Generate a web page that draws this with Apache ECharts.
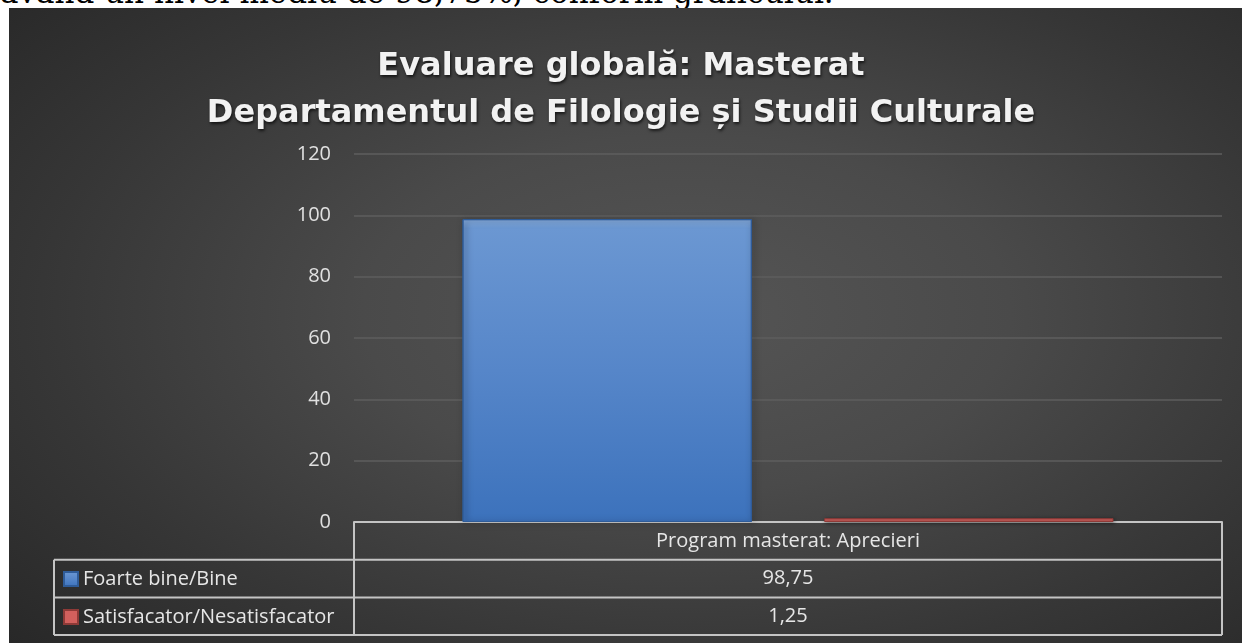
<!DOCTYPE html>
<html><head><meta charset="utf-8">
<script src="https://cdn.jsdelivr.net/npm/echarts@6/dist/echarts.min.js"></script>
<style>
html,body{margin:0;padding:0;background:#fff;width:1242px;height:643px;overflow:hidden;position:relative}
#txt{position:absolute;left:0;top:-26px;font-family:"DejaVu Serif",serif;font-size:31px;color:#000;white-space:nowrap;line-height:36px}
#bg{position:absolute;left:9px;top:8px;width:1233px;height:635px;
 background:radial-gradient(ellipse 75% 80% at 55% 48%, #555555 0%, #4a4a4a 35%, #363636 70%, #272727 100%);}
#chart{position:absolute;left:0;top:0;width:1242px;height:643px}
</style></head>
<body>
<div id="txt">având un nivel mediu de 98,75%, conform graficului.</div>
<div id="bg"></div>
<div id="chart"></div>
<script>
const titleLines = ["Evaluare globală: Masterat", "Departamentul de Filologie și Studii Culturale"];
const categories = ["Program masterat: Aprecieri"];
const seriesNames = ["Foarte bine/Bine", "Satisfacator/Nesatisfacator"];
const valuesGood = [98.75];
const valuesWeak = [1.25];
const yTicks = { min: 0, max: 120, interval: 20 };

const chart = echarts.init(document.getElementById('chart'), null, {renderer: 'canvas'});
const fmt = v => String(v).replace('.', ',');
const lineCol = '#c4c4c4';
const txtCol = '#e6e6e6';

const option = {
  backgroundColor: 'transparent',
  animation: false,
  title: {
    text: titleLines.join('\n'),
    left: 'center', top: 38,
    textStyle: {
      fontFamily: 'DejaVu Sans', fontWeight: 'bold', fontSize: 32, lineHeight: 47,
      color: '#f2f2f2', textShadowColor: 'rgba(0,0,0,0.65)', textShadowBlur: 3,
      textShadowOffsetX: 1, textShadowOffsetY: 2
    }
  },
  legend: {
    orient: 'vertical', left: 63, top: 569, padding: 0,
    itemWidth: 14, itemHeight: 14, itemGap: 18, icon: 'rect',
    textStyle: { color: txtCol, fontSize: 20, fontFamily: 'Open Sans', padding: [0,0,0,0] },
    data: seriesNames
  },
  grid: { left: 354, right: 20, top: 154, bottom: 121, containLabel: false },
  xAxis: {
    type: 'category', data: categories,
    axisLine: { show: true, lineStyle: { color: lineCol, width: 2 } },
    axisTick: { show: false },
    axisLabel: { color: txtCol, fontSize: 20, fontFamily: 'Open Sans', margin: 8 }
  },
  yAxis: {
    type: 'value', min: yTicks.min, max: yTicks.max, interval: yTicks.interval,
    axisLine: { show: false }, axisTick: { show: false },
    axisLabel: { color: '#e0e0e0', fontSize: 20, fontFamily: 'Open Sans', margin: 23 },
    splitLine: { lineStyle: { color: '#5e5e5e', width: 1.5 } }
  },
  series: [
    {
      name: seriesNames[0], type: 'bar', data: valuesGood,
      barGap: '25%', barCategoryGap: '25%',
      itemStyle: {
        color: new echarts.graphic.LinearGradient(0,0,0,1,[
          {offset:0,color:'#86addf'},{offset:0.03,color:'#6b97d2'},{offset:0.5,color:'#5686c9'},{offset:1,color:'#3c72bc'}]),
        borderColor: '#2f5c99', borderWidth: 1,
        shadowColor: 'rgba(0,0,0,0.55)', shadowBlur: 6, shadowOffsetX: 2, shadowOffsetY: 1
      }
    },
    {
      name: seriesNames[1], type: 'bar', data: valuesWeak,
      itemStyle: {
        color: '#d2605d', borderColor: '#8e3a37', borderWidth: 1,
        shadowColor: 'rgba(0,0,0,0.5)', shadowBlur: 4, shadowOffsetX: 1, shadowOffsetY: 1
      }
    }
  ]
};
chart.setOption(option);

// data table below the plot
const x0 = chart.convertToPixel({xAxisIndex:0}, categories[0]);
const yZero = chart.convertToPixel({yAxisIndex:0}, 0);
const left = 54, colSep = 354, right = 1222;
const rowH = 37.7;
const r1 = yZero + rowH, r2 = yZero + 2*rowH, r3 = yZero + 3*rowH;
const ln = (x1,y1,x2,y2) => ({type:'line', shape:{x1,y1,x2,y2}, style:{stroke:lineCol, lineWidth:2}, z:10});
const tx = (text, y) => ({type:'text', x: x0, y, style:{text, fill:txtCol, font:'20px "Open Sans"', textAlign:'center', textVerticalAlign:'middle'}, z:10});
chart.setOption({
  xAxis: { axisLabel: { margin: Math.round(rowH/2 - 10) } },
  graphic: [
    ln(left, r1, right, r1), ln(left, r2, right, r2), ln(left, r3, right, r3),
    ln(left, r1, left, r3), ln(colSep, yZero, colSep, r3), ln(right, yZero, right, r3),
    tx(fmt(valuesGood[0]), (r1+r2)/2), tx(fmt(valuesWeak[0]), (r2+r3)/2)
  ]
});
</script>
</body></html>
